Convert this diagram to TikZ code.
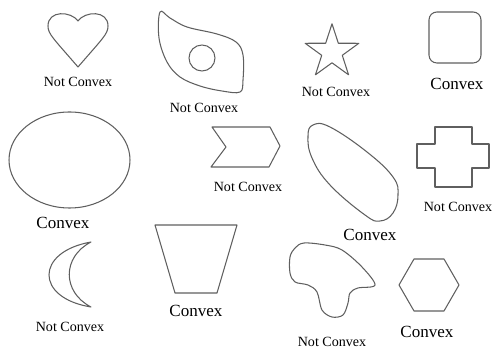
\documentclass[tikz,border=0pt]{standalone}
\usepackage{fontspec}
\setmainfont{Liberation Serif}
\usepackage{tikz}
\usetikzlibrary{calc}
\definecolor{linegray}{RGB}{95, 95, 95}
\tikzstyle{outline} = [draw=linegray, line width=0.6pt, line join=round]
\tikzstyle{notlbl} = [font=\fontsize{8}{9.6}\selectfont, inner sep=0pt]
\tikzstyle{convlbl} = [font=\fontsize{9.7}{11.6}\selectfont, inner sep=0pt]

\begin{document}
\begin{tikzpicture}[x=0.02cm, y=-0.02cm]
    \useasboundingbox (0,0) rectangle (494,347);

    % Heart
    \draw[outline] (78,21) .. controls (71,11) and (48,10) .. (48,26)
        .. controls (48,34) and (53,38) .. (78,67)
        .. controls (103,38) and (108,34) .. (108,26)
        .. controls (108,10) and (85,11) .. (78,21) -- cycle;
    \node[notlbl] (heartlbl) at (78,82) {Not Convex};

    % Blob with hole
    \draw[outline] plot[smooth cycle, tension=0.6] coordinates {(160,12) (170,18) (187,27) (217,34) (236,42) (243,55) (243,80) (240,92) (222,91) (200,86) (180,77) (167,62) (159,38)};
    \draw[outline] (202,58) circle[radius=13];
    \node[notlbl] (holelbl) at (204,108) {Not Convex};

    % Star
    \draw[outline, shift={(332,52)}] (-90:28.2) \foreach \a in {-90,-18,54,126,198} { -- (\a:28.2) -- (\a+36:10.8) } -- cycle;
    \node[notlbl] (starlbl) at (336,92) {Not Convex};

    % Rounded square
    \draw[outline, rounded corners=4.5pt] (429,12) rectangle (481,63);
    \node[convlbl] (squarelbl) at (457,84) {Convex};

    % Ellipse
    \draw[outline] (69.5,160) ellipse[x radius=60.5, y radius=48];
    \node[convlbl] (ellipselbl) at (63,223) {Convex};

    % Chevron
    \draw[outline] (212,127) -- (270,127) -- (280,146) -- (269,167) -- (211,167) -- (226,147) -- cycle;
    \node[notlbl] (chevronlbl) at (248,187) {Not Convex};

    % Egg
    \draw[outline] plot[smooth cycle, tension=0.7] coordinates {(313,125) (330,127) (367,152) (393,177) (398,195) (393,213) (380,221) (365,215) (330,185) (312,158) (308,136)};
    \node[convlbl] (egglbl) at (370,235) {Convex};

    % Cross
    \draw[outline] (435,127) -- (472,127) -- (472,144) -- (489,144) -- (489,168) -- (472,168)
        -- (472,187) -- (435,187) -- (435,168) -- (417,168) -- (417,144) -- (435,144) -- cycle;
    \node[notlbl] (crosslbl) at (458,207) {Not Convex};

    % Crescent
    \draw[outline] (91,242) .. controls (35,252) and (35,298) .. (91,307)
        .. controls (62,292) and (62,257) .. (91,242) -- cycle;
    \node[notlbl] (crescentlbl) at (70,327) {Not Convex};

    % Trapezoid
    \draw[outline] (155,225) -- (237,225) -- (217,293) -- (175,293) -- cycle;
    \node[convlbl] (trapezlbl) at (196,311) {Convex};

    % Irregular blob
    \draw[outline] plot[smooth cycle, tension=0.55] coordinates {(304,243) (325,245) (342,250) (362,267) (375,285) (358,288) (350,293) (348,303) (343,315) (332,317) (322,310) (317,292) (308,285) (295,282) (290,273) (290,257) (295,248)};
    \node[notlbl] (blobl) at (332,342) {Not Convex};

    % Hexagon
    \draw[outline, shift={(429,285)}] (0:30) \foreach \a in {60,120,...,300} { -- (\a:30) } -- cycle;
    \node[convlbl] (hexlbl) at (427,332) {Convex};
\end{tikzpicture}
\end{document}
